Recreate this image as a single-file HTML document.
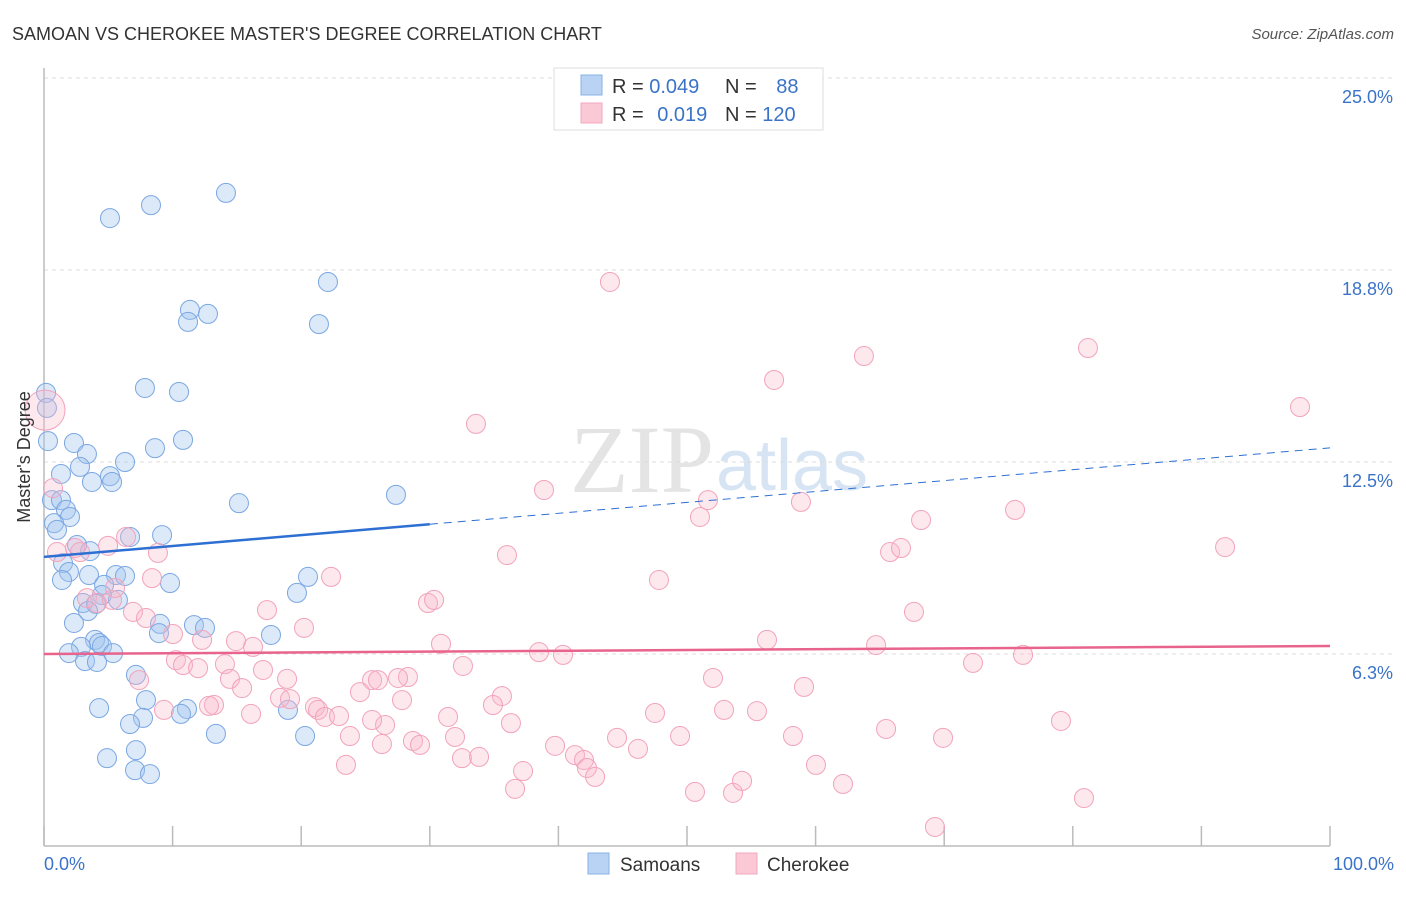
<!DOCTYPE html>
<html><head><meta charset="utf-8"><style>
body{margin:0;background:#fff;font-family:"Liberation Sans",sans-serif;}
</style></head><body>
<svg width="1406" height="892" xmlns="http://www.w3.org/2000/svg" id="svg">
<text x="12" y="40" font-size="18" fill="#333">SAMOAN VS CHEROKEE MASTER'S DEGREE CORRELATION CHART</text>
<text x="1394" y="39" font-size="15" fill="#555" font-style="italic" text-anchor="end">Source: ZipAtlas.com</text>
<text x="714" y="492" font-size="96" fill="#e4e4e4" text-anchor="end" font-family="Liberation Serif">ZIP</text>
<text x="716" y="490" font-size="72" fill="#d6e4f4">atlas</text>
<g id="grid"></g>
<line x1="44" y1="68" x2="44" y2="846" stroke="#bbb" stroke-width="1.5"/>
<line x1="44" y1="846" x2="1330" y2="846" stroke="#bbb" stroke-width="1.5"/>
<g id="ticks"></g>
<g id="pts"></g>
<g id="trends"></g>
<text x="30" y="457" font-size="18" fill="#333" text-anchor="middle" transform="rotate(-90 30 457)">Master's Degree</text>
<text x="44" y="870" font-size="18" fill="#3b73c8">0.0%</text>
<text x="1394" y="870" font-size="18" fill="#3b73c8" text-anchor="end">100.0%</text>
<g>
<rect x="554" y="68" width="269" height="62" fill="#fff" stroke="#ddd"/>
<rect x="581" y="75" width="21" height="20" fill="#b8d3f4" stroke="#88b0e6"/>
<rect x="581" y="103" width="21" height="20" fill="#fbc8d6" stroke="#f0a8bc"/>
<text x="612" y="93" font-size="20" fill="#333">R = <tspan fill="#3b73c8">0.049</tspan></text>
<text x="725" y="93" font-size="20" fill="#333">N = <tspan fill="#3b73c8" dx="14">88</tspan></text>
<text x="612" y="121" font-size="20" fill="#333">R = <tspan fill="#3b73c8" dx="8">0.019</tspan></text>
<text x="725" y="121" font-size="20" fill="#333">N = <tspan fill="#3b73c8">120</tspan></text>
</g>
<g>
<rect x="588" y="853" width="21" height="21" fill="#b8d3f4" stroke="#88b0e6"/>
<text x="620" y="871" font-size="19" fill="#333">Samoans</text>
<rect x="736" y="853" width="21" height="21" fill="#fbc8d6" stroke="#f0a8bc"/>
<text x="767" y="871" font-size="19" fill="#333">Cherokee</text>
</g>
</svg>
<script>
const yTicks=[6.25,12.5,18.75,25];
const yTickLabels=["6.3%","12.5%","18.8%","25.0%"];
const xTicks=[0,10,20,30,40,50,60,70,80,90,100];
const samoanX=[0.16,0.23,0.31,5.13,8.32,14.15,22.08,11.35,11.20,12.75,21.38,7.85,10.50,10.81,8.63,2.33,3.34,2.80,1.32,3.73,5.13,5.29,6.30,0.62,1.32,1.71,2.02,0.78,1.01,15.16,27.37,9.18,6.69,2.57,3.58,1.48,1.94,1.40,3.50,5.60,6.30,9.80,20.53,19.67,4.67,4.51,5.75,3.03,4.04,3.42,2.33,9.02,8.94,11.66,12.52,17.65,3.97,4.28,4.51,2.88,5.37,1.94,3.19,4.12,7.15,7.93,4.28,11.12,10.65,7.70,6.69,18.97,13.37,20.30,7.15,4.90,7.08,8.24];
const samoanY=[14.75,14.26,13.18,20.44,20.86,21.26,18.36,17.45,17.06,17.32,16.99,14.91,14.78,13.22,12.95,13.12,12.76,12.34,12.11,11.85,12.04,11.85,12.50,11.26,11.26,10.94,10.71,10.51,10.29,11.16,11.43,10.12,10.06,9.80,9.60,9.21,8.92,8.66,8.82,8.82,8.79,8.56,8.76,8.24,8.50,8.17,8.01,7.91,7.88,7.65,7.26,7.23,6.93,7.19,7.10,6.87,6.71,6.61,6.51,6.48,6.28,6.28,6.02,5.99,5.57,4.75,4.49,4.46,4.30,4.17,3.97,4.43,3.65,3.58,3.12,2.86,2.47,2.34];
const cherokeeX=[0.08,0.70,1.01,2.41,2.80,6.38,4.98,8.86,3.34,4.12,5.29,5.52,6.92,7.93,8.40,10.03,12.29,10.26,10.81,11.98,14.07,14.46,15.40,17.34,14.93,16.25,17.03,18.90,20.22,22.32,18.35,19.13,21.07,21.31,21.85,22.94,9.33,13.22,12.83,7.39,16.10,23.79,23.48,25.51,24.57,25.97,27.84,28.30,27.53,26.52,25.51,26.28,28.69,29.24,31.42,31.96,32.50,33.83,30.87,32.58,33.59,35.61,34.91,36.31,37.25,36.63,29.86,30.33,36.00,38.88,39.74,41.29,41.99,42.22,42.85,38.49,40.36,44.01,44.56,46.19,47.51,47.82,49.46,50.62,51.01,51.63,52.02,52.88,53.58,54.28,55.44,56.22,56.77,58.24,58.86,59.10,60.03,62.13,63.76,64.70,65.48,65.79,66.64,67.65,68.20,69.28,69.91,72.24,75.51,76.13,79.08,80.87,81.18,91.84,97.67];
const cherokeeY=[14.19,11.65,9.57,9.70,9.57,10.06,9.77,9.54,8.07,7.91,8.01,8.40,7.62,7.42,8.72,6.90,6.71,6.05,5.89,5.79,5.92,5.44,5.14,7.68,6.67,6.48,5.73,5.44,7.10,8.76,4.82,4.78,4.52,4.43,4.20,4.23,4.43,4.59,4.56,5.40,4.30,3.58,2.64,5.40,5.01,5.40,4.75,5.50,5.47,3.94,4.10,3.32,3.42,3.29,4.20,3.55,2.86,2.90,6.58,5.86,13.74,4.88,4.59,4.00,2.44,1.86,7.91,8.01,9.47,11.59,3.26,2.96,2.80,2.54,2.25,6.31,6.22,18.36,3.52,3.16,4.33,8.66,3.58,1.76,10.71,11.26,5.47,4.43,1.73,2.12,4.39,6.71,15.17,3.58,11.20,5.18,2.64,2.02,15.95,6.54,3.81,9.57,9.70,7.62,10.61,0.62,3.52,5.96,10.94,6.22,4.07,1.56,16.21,9.73,14.29];
const samoanTrend=[9.41,12.96];
const cherokeeTrend=[6.25,6.51];
const NS="http://www.w3.org/2000/svg";
function sx(v){return 44+v*12.86;}
function sy(v){return 846-v*30.72;}
function mk(tag,attrs,parent){const e=document.createElementNS(NS,tag);for(const k in attrs)e.setAttribute(k,attrs[k]);document.getElementById(parent).appendChild(e);return e;}
yTicks.forEach((t,i)=>{
  const l=mk('line',{x1:44,x2:1394,y1:sy(t),y2:sy(t),stroke:'#ddd','stroke-dasharray':'4 4'},'grid');
  
  
  const tx=mk('text',{x:1393,y:sy(t)+25,'font-size':18,fill:'#3b73c8','text-anchor':'end'},'grid');
  tx.textContent=yTickLabels[i];
  
  
});
xTicks.forEach(t=>{
  const l=mk('line',{x1:sx(t),x2:sx(t),y1:826,y2:846,stroke:'#bbb','stroke-width':1.5},'ticks');
  
  
});
samoanX.forEach((x,i)=>{
  const c=mk('circle',{cx:sx(x),cy:sy(samoanY[i]),r:9.5,fill:'rgba(160,196,240,0.38)',stroke:'#7ba7e2','stroke-width':1},'pts');
  
  
});
cherokeeX.forEach((x,i)=>{
  const c=mk('circle',{cx:sx(x),cy:sy(cherokeeY[i]),r:i===0?20:9.5,fill:'rgba(248,182,202,0.32)',stroke:'#f2a3bb','stroke-width':1},'pts');
  
  
});
const bMid=samoanTrend[0]+(samoanTrend[1]-samoanTrend[0])*0.3;
let t1=mk('line',{x1:sx(0),y1:sy(samoanTrend[0]),x2:sx(30),y2:sy(bMid),stroke:'#2d6fd2','stroke-width':2.5},'trends');


let t2=mk('line',{x1:sx(30),y1:sy(bMid),x2:sx(100),y2:sy(samoanTrend[1]),stroke:'#2d6fd2','stroke-width':1,'stroke-dasharray':'8 6'},'trends');


let t3=mk('line',{x1:sx(0),y1:sy(cherokeeTrend[0]),x2:sx(100),y2:sy(cherokeeTrend[1]),stroke:'#e8648c','stroke-width':2.5},'trends');


</script>
</body></html>
